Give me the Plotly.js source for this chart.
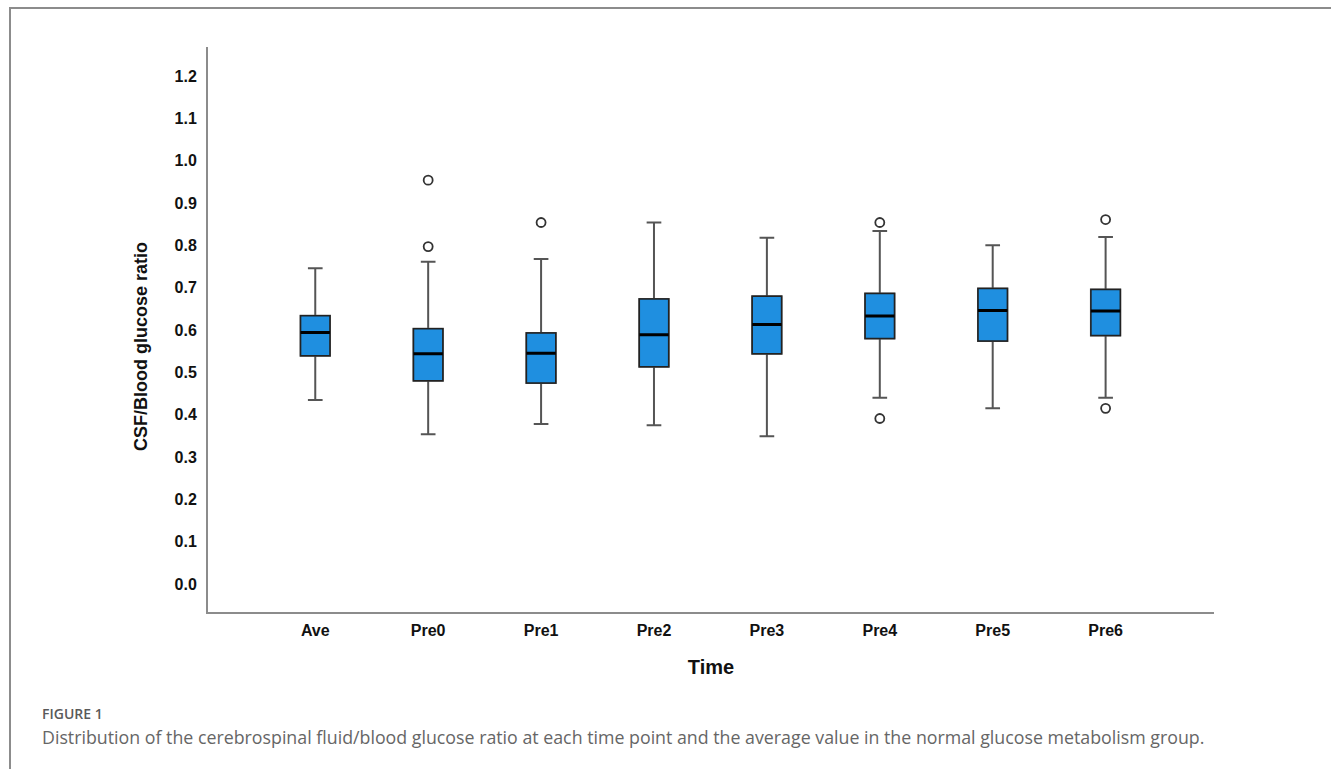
<!DOCTYPE html>
<html>
<head>
<meta charset="utf-8">
<script src="https://cdn.plot.ly/plotly-3.0.1.min.js"></script>
<style>
  html, body { margin: 0; padding: 0; background: #fff; }
  #wrap { position: relative; width: 1331px; height: 769px; overflow: hidden; }
  #frame { position: absolute; left: 9px; top: 7px; width: 1340px; height: 800px;
           border-left: 2px solid #8c8c8c; border-top: 2px solid #8c8c8c; box-sizing: border-box; }
  #chart { position: absolute; left: 0; top: 0; width: 1331px; height: 769px; }
</style>
</head>
<body>
<div id="wrap">
  <div id="frame"></div>
  <div id="chart"></div>
</div>
<script>
// ---- data ----
const categories = ["Ave", "Pre0", "Pre1", "Pre2", "Pre3", "Pre4", "Pre5", "Pre6"];
const lowerWhisker = [0.435, 0.354, 0.378, 0.375, 0.349, 0.440, 0.415, 0.440];
const q1Values     = [0.539, 0.480, 0.475, 0.513, 0.544, 0.580, 0.574, 0.587];
const medianValues = [0.594, 0.544, 0.545, 0.589, 0.613, 0.633, 0.646, 0.645];
const q3Values     = [0.634, 0.603, 0.593, 0.673, 0.680, 0.686, 0.698, 0.696];
const upperWhisker = [0.746, 0.761, 0.768, 0.854, 0.818, 0.834, 0.800, 0.820];
const outlierCats  = ["Pre0", "Pre0", "Pre1", "Pre4", "Pre4", "Pre6", "Pre6"];
const outlierVals  = [0.954, 0.797, 0.854, 0.854, 0.391, 0.861, 0.415];
const yTickVals    = [0, 0.1, 0.2, 0.3, 0.4, 0.5, 0.6, 0.7, 0.8, 0.9, 1.0, 1.1, 1.2];

const boxFill = "#1f8fe0";
const boxW = 0.26;

// whiskers + box (gray lines)
const whiskerTrace = {
  type: "box", x: categories,
  q1: q1Values, median: medianValues, q3: q3Values,
  lowerfence: lowerWhisker, upperfence: upperWhisker,
  width: boxW, whiskerwidth: 0.5,
  fillcolor: boxFill, line: { color: "#555555", width: 2 },
  boxpoints: false, showlegend: false, hoverinfo: "skip"
};
// box outline (dark)
const boxTrace = {
  type: "box", x: categories,
  q1: q1Values, median: medianValues, q3: q3Values,
  lowerfence: q1Values, upperfence: q3Values,
  width: boxW, whiskerwidth: 0,
  fillcolor: boxFill, line: { color: "#222222", width: 1.5 },
  boxpoints: false, showlegend: false, hoverinfo: "skip"
};
// thick median line
const medianTrace = {
  type: "box", x: categories,
  q1: medianValues, median: medianValues, q3: medianValues,
  lowerfence: medianValues, upperfence: medianValues,
  width: boxW, whiskerwidth: 0,
  fillcolor: "rgba(0,0,0,0)", line: { color: "#000000", width: 3 },
  boxpoints: false, showlegend: false, hoverinfo: "skip"
};
const outlierTrace = {
  type: "scatter", mode: "markers", x: outlierCats, y: outlierVals,
  marker: { symbol: "circle-open", size: 9, color: "#333333", line: { width: 1.8, color: "#333333" } },
  showlegend: false, hoverinfo: "skip"
};

const axisFont = { family: "Liberation Sans, Arial, sans-serif", size: 16, color: "#111111", weight: "bold" };

const layout = {
  width: 1331, height: 769,
  margin: { l: 208, r: 117, t: 47, b: 157 },
  paper_bgcolor: "rgba(0,0,0,0)", plot_bgcolor: "rgba(0,0,0,0)",
  boxmode: "overlay",
  showlegend: false,
  xaxis: {
    type: "category", categoryorder: "array", categoryarray: categories,
    range: [-0.95, 7.96],
    showline: true, linecolor: "#8c8c8c", linewidth: 2,
    showgrid: false, zeroline: false, ticks: "",
    tickfont: axisFont, ticklabelstandoff: 3,
    title: { text: "Time", font: { family: "Liberation Sans, Arial, sans-serif", size: 20, color: "#111111", weight: "bold" }, standoff: 22 }
  },
  yaxis: {
    range: [-0.066, 1.2685],
    tickvals: yTickVals, tickformat: ".1f",
    showline: true, linecolor: "#8c8c8c", linewidth: 2,
    showgrid: false, zeroline: false, ticks: "",
    tickfont: axisFont, ticklabelstandoff: 6
  },
  annotations: [
    { text: "CSF/Blood glucose ratio", textangle: -90, xref: "paper", yref: "paper",
      x: (141 - 208) / 1006, y: (612 - 347) / 565, xanchor: "center", yanchor: "middle", showarrow: false,
      font: { family: "Liberation Sans, Arial, sans-serif", size: 18, color: "#111111", weight: "bold" } },
    { text: "FIGURE 1", xref: "paper", yref: "paper",
      x: (40 - 208) / 1006, y: (612 - 713) / 565, xanchor: "left", yanchor: "middle", showarrow: false,
      font: { family: "Open Sans, sans-serif", size: 14, color: "#5a5a5a", weight: 600 } },
    { text: "Distribution of the cerebrospinal fluid/blood glucose ratio at each time point and the average value in the normal glucose metabolism group.",
      xref: "paper", yref: "paper",
      x: (40 - 208) / 1006, y: (612 - 737) / 565, xanchor: "left", yanchor: "middle", showarrow: false,
      font: { family: "Open Sans, sans-serif", size: 17.8, color: "#666666" } }
  ]
};

Plotly.newPlot("chart", [whiskerTrace, boxTrace, medianTrace, outlierTrace], layout, { displayModeBar: false, staticPlot: true });
</script>
</body>
</html>
